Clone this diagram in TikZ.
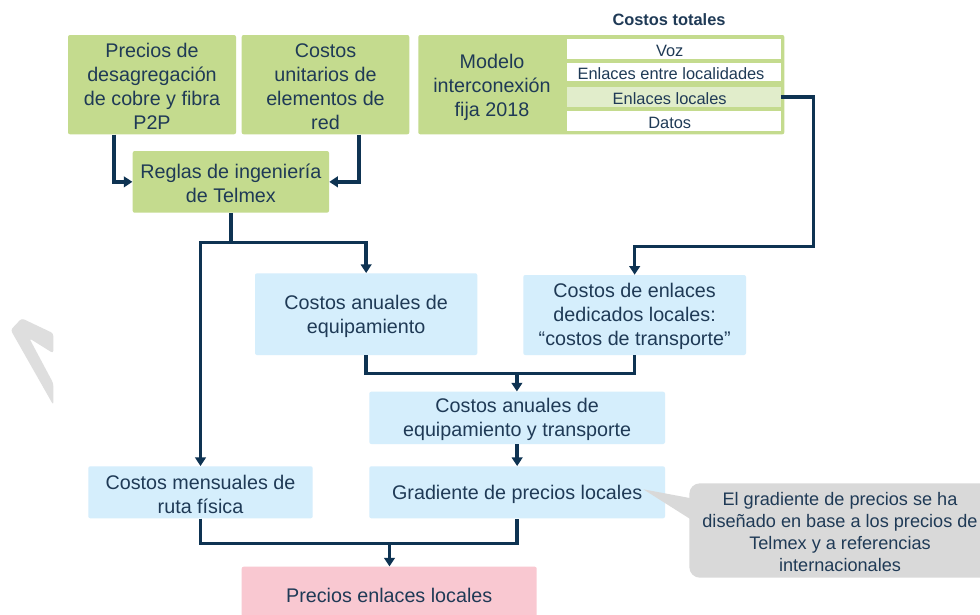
\documentclass[tikz,border=0pt]{standalone}
\usepackage{fontspec}
\setmainfont{Liberation Sans}
\usetikzlibrary{calc,arrows.meta}
\definecolor{txt}{HTML}{1F3A56}
\definecolor{ln}{HTML}{0E3352}
\definecolor{grn}{HTML}{C4DB8E}
\definecolor{lgrn}{HTML}{E1EDCB}
\definecolor{blu}{HTML}{D5EEFC}
\definecolor{pnk}{HTML}{F9C8D1}
\definecolor{gry}{HTML}{D9D9D9}
\definecolor{wm}{HTML}{DEDEDE}
\newcommand{\mainsz}{\fontsize{14.8}{18}\selectfont}
\newcommand{\smallsz}{\fontsize{12.3}{14}\selectfont}
\newcommand{\calsz}{\fontsize{13.6}{16.5}\selectfont}
% \bx{name}{style}{x1}{y1}{x2}{y2}{text}
\newcommand{\bx}[7]{%
  \pgfmathsetmacro\bxcx{(#3+#5)/2}%
  \pgfmathsetmacro\bxcy{(#4+#6)/2}%
  \pgfmathsetmacro\bxw{(#5-#3)*0.75}%
  \pgfmathsetmacro\bxh{(#6-#4)*0.75}%
  \node[#2, minimum width=\bxw pt, minimum height=\bxh pt] (#1) at (\bxcx,\bxcy) {};
  \node[#2, fill=none] (#1t) at (\bxcx,\bxcy+1.8) {#7};}
\begin{document}
\begin{tikzpicture}[x=0.75pt,y=-0.75pt,
  box/.style={inner sep=0pt, rounded corners=1.5pt, align=center, text=txt, font=\mainsz},
  gbox/.style={box, fill=grn},
  bbox/.style={box, fill=blu},
  pbox/.style={box, fill=pnk},
  rowbox/.style={inner sep=0pt, fill=white, font=\smallsz, text=txt},
  conn/.style={draw=ln, line width=2.6pt},
  arr/.style={conn, -{Triangle[width=8pt,length=6.5pt]}}]
\useasboundingbox (0,0) rectangle (980,614);
\fill[white] (0,0) rectangle (980,614);
% watermark fragment
\fill[wm, rounded corners=2pt] (53.3,333.3) -- (21.7,318.3) -- (10.7,330) -- (53.3,405) -- (53.3,383.3) -- (29.3,338.3) -- (53.3,353.3) -- cycle;

% top row
\bx{b1}{gbox}{68}{35}{236}{134.3}{Precios de\\desagregación\\de cobre y fibra\\P2P}
\bx{b2}{gbox}{241.7}{35}{409.3}{134.3}{Costos\\unitarios de\\elementos de\\red}
\bx{b3}{gbox}{418.3}{35}{784.3}{134.3}{}
\node[box] (mt) at (492,87.5) {Modelo\\interconexión\\fija 2018};
\node[font=\smallsz\bfseries, text=txt] (tt) at (669,20) {Costos totales};
\bx{r1}{rowbox}{566.7}{39.3}{780.7}{59.3}{Voz\hspace*{6pt}}
\bx{r2}{rowbox}{566.7}{63.3}{780.7}{81.3}{Enlaces entre localidades\hspace*{4pt}}
\bx{r3}{rowbox, fill=lgrn}{566.7}{87.3}{780.7}{106.7}{Enlaces locales\hspace*{6pt}}
\bx{r4}{rowbox}{566.7}{111}{780.7}{130.7}{Datos\hspace*{6pt}}

\bx{b4}{gbox}{132.7}{151}{329}{212.7}{Reglas de ingeniería\\de Telmex}

\bx{b5}{bbox}{255}{273.3}{477.3}{355}{Costos anuales de\\equipamiento}
\bx{b6}{bbox}{523.3}{275}{746}{355}{Costos de enlaces\\dedicados locales:\\“costos de transporte”}
\bx{b7}{bbox}{369.3}{391.7}{665}{444}{Costos anuales de\\equipamiento y transporte}
\bx{b8}{bbox}{369.3}{466.3}{665}{518.3}{Gradiente de precios locales}
\bx{b9}{bbox}{88.3}{466.3}{312.7}{518.3}{Costos mensuales de\\ruta física}
\bx{pr}{pbox}{241.7}{566.7}{536.7}{620}{Precios enlaces locales}

% callout
\bx{cob}{inner sep=0pt, fill=gry, rounded corners=8pt}{689.3}{483.3}{995}{577.7}{}
\fill[gry] (643.3,489.3) -- (695,499) -- (695,522) -- cycle;
\node[align=center, font=\calsz, text=txt] (cot) at (840,532.5) {El gradiente de precios se ha\\diseñado en base a los precios de\\Telmex y a referencias\\internacionales};

% connectors
\coordinate (j1) at (230.8,242.3);
\coordinate (k2) at (813.3,246.7);
\coordinate (j2) at (516.9,373.3);
\coordinate (j3) at (389.5,543.3);
\draw[arr] ($(b1.south west)+(46.3,0)$) |- (b4.west);
\draw[arr] ($(b2.south west)+(117.6,0)$) |- (b4.east);
\draw[conn] (b4.south -| j1) -- (j1);
\draw[arr] (j1) -| (b5.north);
\draw[arr] (j1) -| (b9.north);
\draw[arr] (r3.east) -| (k2) -| (b6.north);
\draw[conn] (b5.south) |- (j2) -| (b6.south);
\draw[arr] (j2) -- (b7.north -| j2);
\draw[arr] (b7.south) -- (b8.north);
\draw[conn] (b9.south) |- (j3) -| (b8.south);
\draw[arr] (j3) -- (pr.north -| j3);
\end{tikzpicture}
\end{document}
